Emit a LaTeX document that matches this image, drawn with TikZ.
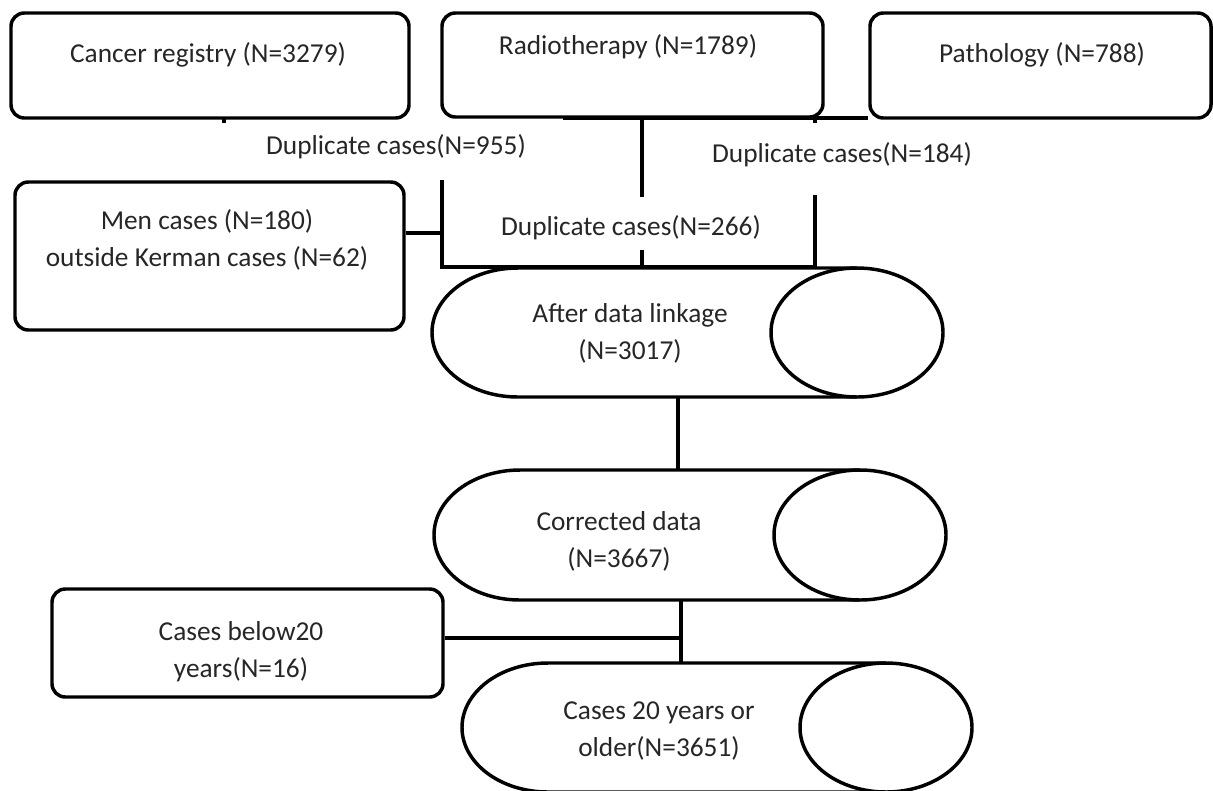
\documentclass[tikz,border=0pt]{standalone}
\usepackage{fontspec}
\setmainfont{Carlito}
\begin{document}
\begin{tikzpicture}[x=0.75pt,y=-0.75pt,
  ln/.style={line width=2.6pt, draw=black},
  box/.style={ln, rounded corners=10pt, inner sep=0pt},
  lbl/.style={font=\fontsize{20.5}{27.75}\selectfont, align=center, inner sep=0pt, text=black!85}]
\useasboundingbox (0,0) rectangle (1213,790);
% boxes
\node[box, minimum width=298.5pt, minimum height=78.75pt] (reg) at (210,65.5) {};
\node[box, minimum width=285.75pt, minimum height=78pt] (rad) at (632.5,65) {};
\node[box, minimum width=255.75pt, minimum height=78.75pt] (pat) at (1040.5,65.5) {};
\node[box, minimum width=291.75pt, minimum height=111pt] (men) at (209.5,256) {};
\node[box, minimum width=293.25pt, minimum height=81pt] (low) at (247.5,643) {};
% box texts
\node[lbl] (treg) at (208,55) {Cancer registry (N=3279)};
\node[lbl] (trad) at (628,47) {Radiotherapy (N=1789)};
\node[lbl] (tpat) at (1042,55) {Pathology (N=788)};
\node[lbl] (tmen) at (207,240) {Men cases (N=180)\\outside Kerman cases (N=62)};
\node[lbl] (tlow) at (241,651.5) {Cases below20\\years(N=16)};
% cylinders
\draw[ln] (857,268) -- (518,268) arc[start angle=90,end angle=270,x radius=64.5pt,y radius=48.375pt] -- (857,397);
\draw[ln] (857,332.5) ellipse[x radius=64.5pt,y radius=48.375pt];
\draw[ln] (860,470) -- (520,470) arc[start angle=90,end angle=270,x radius=64.5pt,y radius=48.75pt] -- (860,600);
\draw[ln] (860,535) ellipse[x radius=64.5pt,y radius=48.75pt];
\draw[ln] (886,663) -- (548,663) arc[start angle=90,end angle=270,x radius=64.5pt,y radius=48.375pt] -- (886,792);
\draw[ln] (886,727.5) ellipse[x radius=64.5pt,y radius=48.375pt];
\node[lbl] (c1) at (630,333.5) {After data linkage\\(N=3017)};
\node[lbl] (c2) at (619,541) {Corrected data\\(N=3667)};
\node[lbl] (c3) at (659,731.5) {Cases 20 years or\\older(N=3651)};
% duplicate labels
\node[lbl] (d955) at (396,147) {Duplicate cases(N=955)};
\node[lbl] (d266) at (631,228) {Duplicate cases(N=266)};
\node[lbl] (d184) at (842,155) {Duplicate cases(N=184)};
% junction coordinates
\coordinate (jl) at (442,267);
\coordinate (jm) at (642,267);
\coordinate (jr) at (815,267);
\coordinate (hl) at (563,118);
\coordinate (c1b) at (678,397);
\coordinate (c2t) at (678,470);
\coordinate (c2b) at (681,600);
\coordinate (c3t) at (681,663);
\coordinate (lj) at (681,638);
\coordinate (mj) at (442,233);
% connectors
\draw[ln] (hl) -- (hl -| pat.west);
\draw[ln] (224,118) -- (224,123);
\draw[ln] (jm |- rad.south) -- (642,197);
\draw[ln] (642,250) -- (jm);
\draw[ln] (815,118) -- (815,123);
\draw[ln] (815,195) -- (jr);
\draw[ln] (442,180) -- (jl) -- (jr);
\draw[ln] (mj -| men.east) -- (mj);
\draw[ln] (c1b) -- (c2t);
\draw[ln] (c2b) -- (c3t);
\draw[ln] (lj -| low.east) -- (lj);
\end{tikzpicture}
\end{document}
